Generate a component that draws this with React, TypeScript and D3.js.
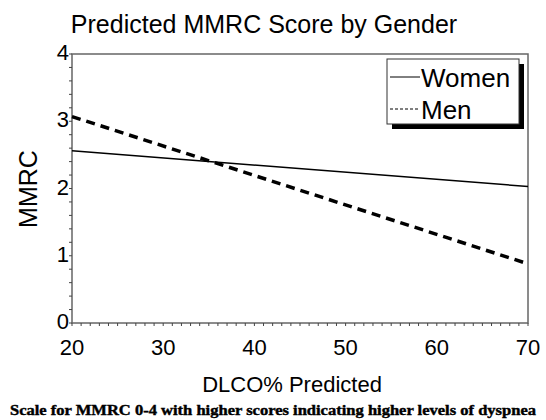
import React, { useEffect, useRef } from "react";
import * as d3 from "d3";

// series: predicted MMRC at DLCO% predicted endpoints
const dlco = [20, 70];
const women = [2.56, 2.03];
const men = [3.07, 0.88];
const xTicks = [20, 30, 40, 50, 60, 70];
const yTicks = [0, 1, 2, 3, 4];
const seriesNames = ["Women", "Men"];

export default function App() {
  const ref = useRef<SVGSVGElement>(null);

  useEffect(() => {
    const svg = d3.select(ref.current);
    svg.selectAll("*").remove();

    const left = 72, right = 528, top = 54, bottom = 323;
    const font = "Arial, 'Liberation Sans', sans-serif";

    const x = d3.scaleLinear().domain([20, 70]).range([left, right]);
    const y = d3.scaleLinear().domain([0, 4]).range([bottom, top]);

    svg.append("rect").attr("width", 546).attr("height", 420).attr("fill", "#fff");

    // title
    svg.append("text")
      .attr("x", 264).attr("y", 33)
      .attr("text-anchor", "middle")
      .style("font-family", font).style("font-size", "25px")
      .text("Predicted MMRC Score by Gender");

    // frame
    svg.append("rect")
      .attr("x", left).attr("y", top)
      .attr("width", right - left).attr("height", bottom - top)
      .attr("fill", "none").attr("stroke", "#666").attr("stroke-width", 1.5);

    // minor ticks
    const yMinor = d3.range(0, 4.001, 0.2);
    svg.append("g").selectAll("line").data(yMinor).enter().append("line")
      .attr("x1", left - 3).attr("x2", left)
      .attr("y1", (d) => y(d)).attr("y2", (d) => y(d))
      .attr("stroke", "#444").attr("stroke-width", 1);
    const xMinor = d3.range(20, 70.001, 1);
    svg.append("g").selectAll("line").data(xMinor).enter().append("line")
      .attr("x1", (d) => x(d)).attr("x2", (d) => x(d))
      .attr("y1", bottom).attr("y2", bottom + 3)
      .attr("stroke", "#444").attr("stroke-width", 1);

    // tick labels
    svg.append("g").selectAll("text").data(yTicks).enter().append("text")
      .attr("x", left - 3).attr("y", (d) => y(d) + 6)
      .attr("text-anchor", "end")
      .style("font-family", font).style("font-size", "22px")
      .text((d) => d);
    svg.append("g").selectAll("text").data(xTicks).enter().append("text")
      .attr("x", (d) => x(d)).attr("y", bottom + 32)
      .attr("text-anchor", "middle")
      .style("font-family", font).style("font-size", "22px")
      .text((d) => d);

    // axis labels
    svg.append("text")
      .attr("x", 292).attr("y", 392)
      .attr("text-anchor", "middle")
      .style("font-family", font).style("font-size", "22px")
      .text("DLCO% Predicted");
    svg.append("text")
      .attr("transform", "translate(37,189)rotate(-90)")
      .attr("text-anchor", "middle")
      .style("font-family", font).style("font-size", "25px")
      .text("MMRC");

    // footnote
    svg.append("text")
      .attr("x", 273).attr("y", 415)
      .attr("text-anchor", "middle")
      .attr("textLength", 526).attr("lengthAdjust", "spacingAndGlyphs")
      .style("font-family", "'Liberation Serif', 'Times New Roman', serif")
      .style("font-size", "14px").style("font-weight", "bold")
      .style("stroke", "#000").style("stroke-width", 0.4)
      .text("Scale for MMRC 0-4 with higher scores indicating higher levels of dyspnea");

    // lines
    const line = d3.line<[number, number]>().x((d) => x(d[0])).y((d) => y(d[1]));
    svg.append("path")
      .datum(dlco.map((d, i) => [d, women[i]] as [number, number]))
      .attr("d", line).attr("fill", "none")
      .attr("stroke", "#000").attr("stroke-width", 1.5);
    svg.append("path")
      .datum(dlco.map((d, i) => [d, men[i]] as [number, number]))
      .attr("d", line).attr("fill", "none")
      .attr("stroke", "#000").attr("stroke-width", 3.5)
      .attr("stroke-dasharray", "9,6");

    // legend
    const lx = 387, ly = 59, lw = 132, lh = 65;
    svg.append("rect")
      .attr("x", lx + 5).attr("y", ly + 5).attr("width", lw).attr("height", lh)
      .attr("fill", "#000");
    svg.append("rect")
      .attr("x", lx).attr("y", ly).attr("width", lw).attr("height", lh)
      .attr("fill", "#fff").attr("stroke", "#333").attr("stroke-width", 1);
    seriesNames.forEach((name, i) => {
      const cy = ly + 18 + i * 32;
      svg.append("line")
        .attr("x1", lx + 3).attr("x2", lx + 33)
        .attr("y1", cy).attr("y2", cy)
        .attr("stroke", "#000").attr("stroke-width", 1)
        .attr("stroke-dasharray", i === 1 ? "3,2" : null);
      svg.append("text")
        .attr("x", lx + 34).attr("y", cy + 10)
        .style("font-family", font).style("font-size", "26px")
        .text(name);
    });
  }, []);

  return (
    <svg ref={ref} width={546} height={420}
      style={{ position: "absolute", left: 0, top: 0 }} />
  );
}
